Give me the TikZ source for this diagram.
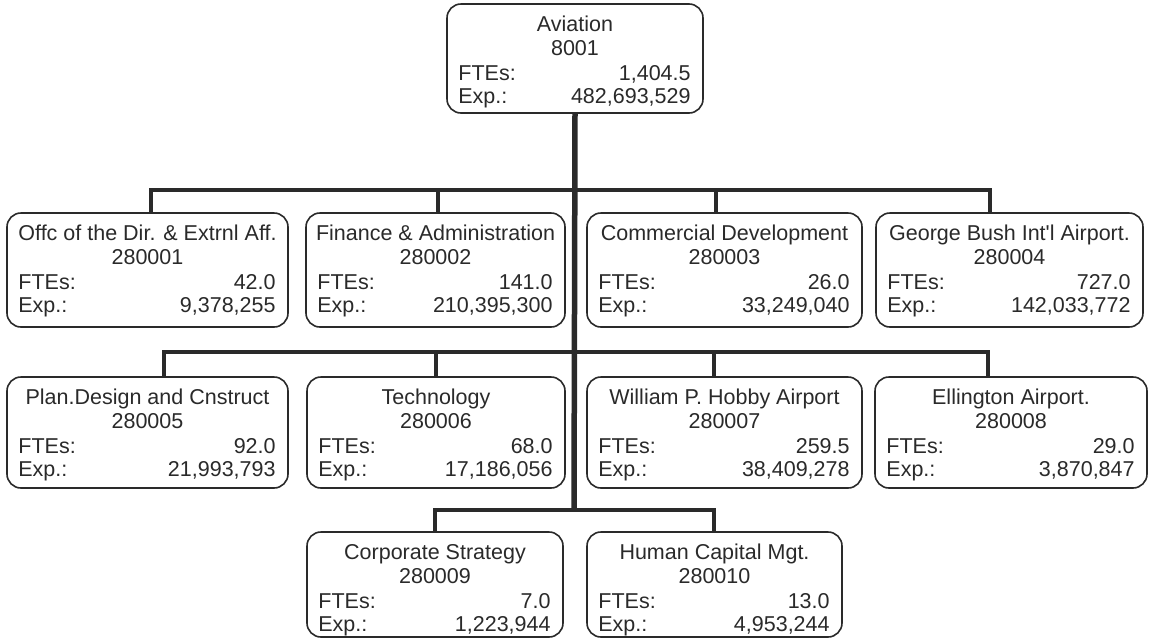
\documentclass[tikz,border=0pt]{standalone}
\usepackage{fontspec}
\setmainfont{Liberation Sans}
\definecolor{ink}{HTML}{2A2A2A}
\tikzset{
  unitbox/.style={draw=ink, line width=1.6pt, rounded corners=14pt, inner sep=0pt},
  txt/.style={text=ink, font=\fontsize{21.5}{25}\selectfont, inner sep=0pt},
  trunk/.style={draw=ink, line width=5.5pt},
  bar/.style={draw=ink, line width=4.5pt},
  drop/.style={draw=ink, line width=3.5pt},
}
% name, x1, y1, x2, y2, title, code, ftes, exp
\newcommand\orgunit[9]{%
  \node[unitbox, minimum width={(#4-#2)*1pt}, minimum height={(#5-#3)*1pt}] (#1) at ({(#2+#4)/2},{(#3+#5)/2}) {};
  \node[txt, anchor=base] (#1-t) at ([yshift=-28pt]#1.north) {#6};
  \node[txt, anchor=base] (#1-c) at ([yshift=-52pt]#1.north) {#7};
  \node[txt, anchor=base west] (#1-fl) at ([shift={(12pt,-77pt)}]#1.north west) {FTEs:};
  \node[txt, anchor=base east] (#1-fv) at ([shift={(-13pt,-77pt)}]#1.north east) {#8};
  \node[txt, anchor=base west] (#1-el) at ([shift={(12pt,-100pt)}]#1.north west) {Exp.:};
  \node[txt, anchor=base east] (#1-ev) at ([shift={(-13pt,-100pt)}]#1.north east) {#9};
}
\begin{document}
\begin{tikzpicture}[x=1pt, y=-1pt]
\useasboundingbox (0,0) rectangle (1149,638);
\fill[white] (0,0) rectangle (1149,638);

\orgunit{av}{447}{4}{703}{113}{Aviation}{8001}{1,404.5}{482,693,529}
\orgunit{b1}{7}{213}{288}{327}{Offc of the Dir. \& Extrnl Aff.}{280001}{42.0}{9,378,255}
\orgunit{b2}{306}{213}{565}{327}{Finance \& Administration}{280002}{141.0}{210,395,300}
\orgunit{b3}{587}{213}{862}{327}{Commercial Development}{280003}{26.0}{33,249,040}
\orgunit{b4}{876}{213}{1143}{327}{George Bush Int\textquotesingle l Airport.}{280004}{727.0}{142,033,772}
\orgunit{b5}{7}{377}{288}{488}{Plan.Design and Cnstruct}{280005}{92.0}{21,993,793}
\orgunit{b6}{307}{377}{565}{488}{Technology}{280006}{68.0}{17,186,056}
\orgunit{b7}{587}{377}{862}{488}{William P. Hobby Airport}{280007}{259.5}{38,409,278}
\orgunit{b8}{875}{377}{1147}{488}{Ellington Airport.}{280008}{29.0}{3,870,847}
\orgunit{b9}{307}{532}{563}{637}{Corporate Strategy}{280009}{7.0}{1,223,944}
\orgunit{b10}{587}{532}{842}{637}{Human Capital Mgt.}{280010}{13.0}{4,953,244}

% bar junctions
\coordinate (j1) at (574,190);
\coordinate (j2) at (574,352);
\coordinate (j3) at (574,510);
\coordinate (d1) at (151,190);
\coordinate (d2) at (438,190);
\coordinate (d3) at (716,190);
\coordinate (d4) at (990,190);
\coordinate (d5) at (164,352);
\coordinate (d6) at (436,352);
\coordinate (d7) at (714,352);
\coordinate (d8) at (988,352);
\coordinate (d9) at (435,510);
\coordinate (d10) at (714,510);

% drops
\foreach \i in {1,...,4} {\draw[drop] (d\i) -- (d\i |- b\i.north);}
\foreach \i in {5,...,8} {\draw[drop] (d\i) -- (d\i |- b\i.north);}
\foreach \i in {9,10} {\draw[drop] (d\i) -- (d\i |- b\i.north);}

% bars
\draw[bar, line cap=rect] (d1) -- (d4);
\draw[bar, line cap=rect] (d5) -- (d8);
\draw[bar, line cap=rect] (d9) -- (d10);

% trunk
\draw[trunk] (av.south) -- (j3);
\end{tikzpicture}
\end{document}
